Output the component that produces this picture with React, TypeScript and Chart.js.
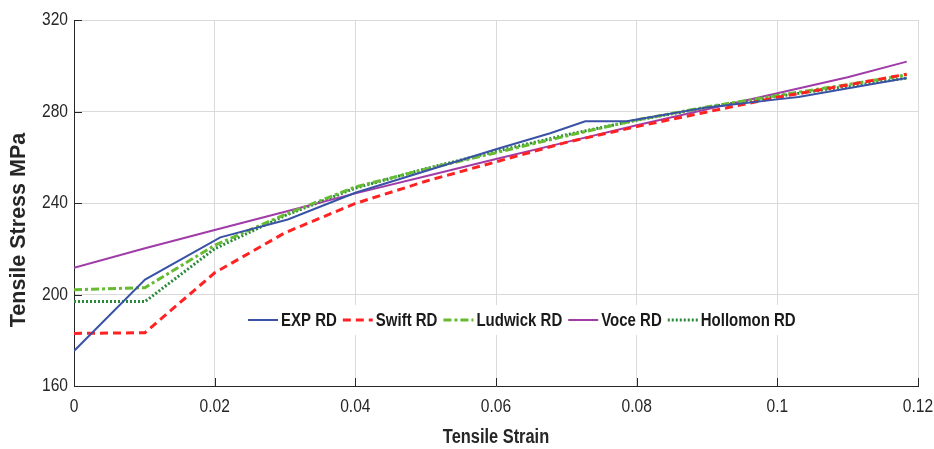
import React, { useEffect, useRef } from "react";
import { Chart, registerables } from "chart.js";

Chart.register(...registerables);

const expStrain = [0, 0.0101, 0.0208, 0.0304, 0.04, 0.05, 0.06, 0.0677, 0.0727, 0.0786, 0.09, 0.1, 0.103, 0.1184];
const expStress = [175.3, 206.5, 225, 232.8, 244.5, 254, 263.5, 270.5, 275.7, 275.7, 281.8, 285.3, 286.3, 294.6];

const modelStrain = [0, 0.0101, 0.02, 0.03, 0.04, 0.05, 0.06, 0.07, 0.08, 0.09, 0.1, 0.11, 0.1184];
const swiftStress = [183, 183.3, 209.5, 227, 239.8, 249.5, 258, 266.5, 273.4, 279.8, 286.2, 291.6, 296.3];
const ludwickStress = [202.1, 203, 221.5, 235, 247, 254.8, 262, 269.3, 276.3, 282, 287, 291.8, 296];
const voceStress = [211.7, 220.2, 228.2, 236.2, 244.2, 251.7, 259.2, 266.6, 274, 281, 288, 295, 301.8];
const hollomonStress = [196.9, 196.9, 220, 234.5, 246.5, 255, 262.6, 269.8, 276.2, 281.8, 286.6, 291, 294.6];

const seriesNames = ["EXP RD", "Swift RD", "Ludwick RD", "Voce RD", "Hollomon RD"];
const xTickValues = [0, 0.02, 0.04, 0.06, 0.08, 0.1, 0.12];
const xTickLabels = ["0", "0.02", "0.04", "0.06", "0.08", "0.1", "0.12"];
const yTickValues = [160, 200, 240, 280, 320];
const yTickLabels = ["160", "200", "240", "280", "320"];
const xTitle = "Tensile Strain";
const yTitle = "Tensile Stress MPa";

const FONT = "'Liberation Sans', Arial, sans-serif";
const NARROW_SCALE = 0.82;
const DARK = "#262626";

const toPts = (xs: number[], ys: number[]) => xs.map((x, i) => ({ x, y: ys[i] }));

const styles = [
  { color: "#3a52a6", width: 2, dash: [] as number[] },
  { color: "#ff2222", width: 3, dash: [8, 5] },
  { color: "#66bb33", width: 3, dash: [8, 3, 3, 3] },
  { color: "#a03ca8", width: 2, dash: [] as number[] },
  { color: "#2a8a3a", width: 3, dash: [2, 2] },
];

function narrowText(
  ctx: CanvasRenderingContext2D,
  text: string,
  x: number,
  y: number,
  align: "left" | "center" | "right",
  font: string
): number {
  ctx.save();
  ctx.font = font;
  ctx.textBaseline = "middle";
  ctx.textAlign = "left";
  const w = ctx.measureText(text).width * NARROW_SCALE;
  const lx = align === "left" ? x : align === "center" ? x - w / 2 : x - w;
  ctx.translate(lx, y);
  ctx.scale(NARROW_SCALE, 1);
  ctx.fillText(text, 0, 0);
  ctx.restore();
  return w;
}

const overlayPlugin = {
  id: "overlay",
  afterDraw(chart: any) {
    const ctx = chart.ctx as CanvasRenderingContext2D;
    const { left, right, top, bottom } = chart.chartArea;
    const xs = chart.scales.x;
    const ys = chart.scales.y;
    ctx.save();
    // inside ticks
    ctx.strokeStyle = DARK;
    ctx.lineWidth = 1;
    ctx.setLineDash([]);
    ctx.beginPath();
    xTickValues.forEach((v) => {
      const px = Math.round(xs.getPixelForValue(v)) + 0.5;
      ctx.moveTo(px, bottom);
      ctx.lineTo(px, bottom - 8);
    });
    yTickValues.forEach((v) => {
      const py = Math.round(ys.getPixelForValue(v)) + 0.5;
      ctx.moveTo(left, py);
      ctx.lineTo(left + 8, py);
    });
    ctx.stroke();

    // tick labels
    ctx.fillStyle = DARK;
    xTickValues.forEach((v, i) => {
      narrowText(ctx, xTickLabels[i], xs.getPixelForValue(v), bottom + 21, "center", `19px ${FONT}`);
    });
    yTickValues.forEach((v, i) => {
      narrowText(ctx, yTickLabels[i], left - 6, ys.getPixelForValue(v), "right", `19px ${FONT}`);
    });

    // legend
    const lx0 = left + 174;
    const ly = top + 300;
    ctx.fillStyle = "#ffffff";
    ctx.fillRect(left + 169, ly - 15, 555, 30);
    let x = lx0;
    seriesNames.forEach((name, i) => {
      const s = styles[i];
      ctx.strokeStyle = s.color;
      ctx.lineWidth = s.width;
      ctx.setLineDash(s.dash);
      ctx.beginPath();
      ctx.moveTo(x, ly);
      ctx.lineTo(x + 30, ly);
      ctx.stroke();
      ctx.fillStyle = "#1a1a1a";
      const w = narrowText(ctx, name, x + 33, ly + 1, "left", `bold 18.3px ${FONT}`);
      x = x + 33 + w + 6;
    });
    ctx.setLineDash([]);

    // axis titles
    ctx.fillStyle = DARK;
    narrowText(ctx, xTitle, (left + right) / 2, bottom + 51, "center", `bold 20px ${FONT}`);
    ctx.save();
    ctx.translate(19, (top + bottom) / 2 + 27);
    ctx.rotate(-Math.PI / 2);
    ctx.font = `bold 21.5px ${FONT}`;
    ctx.textAlign = "center";
    ctx.textBaseline = "middle";
    ctx.fillText(yTitle, 0, 0);
    ctx.restore();
    ctx.restore();
  },
};

export default function App() {
  const ref = useRef<HTMLCanvasElement | null>(null);
  useEffect(() => {
    document.body.style.margin = "0";
    if (!ref.current) return;
    const data = [
      toPts(expStrain, expStress),
      toPts(modelStrain, swiftStress),
      toPts(modelStrain, ludwickStress),
      toPts(modelStrain, voceStress),
      toPts(modelStrain, hollomonStress),
    ];
    const chart = new Chart(ref.current, {
      type: "line",
      data: {
        datasets: seriesNames.map((name, i) => ({
          label: name,
          data: data[i],
          borderColor: styles[i].color,
          backgroundColor: styles[i].color,
          borderWidth: styles[i].width,
          borderDash: styles[i].dash,
          pointRadius: 0,
          tension: 0,
          fill: false,
        })),
      },
      options: {
        responsive: false,
        animation: false,
        devicePixelRatio: 1,
        layout: { padding: { top: 20, right: 16, left: 0, bottom: 0 } },
        plugins: { legend: { display: false }, tooltip: { enabled: false } },
        scales: {
          x: {
            type: "linear",
            min: 0,
            max: 0.12,
            afterFit: (s: any) => { s.height = 63; },
            afterBuildTicks: (s: any) => { s.ticks = xTickValues.map((v) => ({ value: v })); },
            ticks: { display: false },
            grid: { color: "#dadada", lineWidth: 1, drawTicks: false },
            border: { color: DARK, width: 1 },
          },
          y: {
            type: "linear",
            min: 160,
            max: 320,
            afterFit: (s: any) => { s.width = 74; },
            afterBuildTicks: (s: any) => { s.ticks = yTickValues.map((v) => ({ value: v })); },
            ticks: { display: false },
            grid: { color: "#dadada", lineWidth: 1, drawTicks: false },
            border: { color: DARK, width: 1 },
          },
        },
      },
      plugins: [overlayPlugin],
    } as any);
    return () => chart.destroy();
  }, []);
  return (
    <div style={{ width: 934, height: 449 }}>
      <canvas ref={ref} width={934} height={449} />
    </div>
  );
}
